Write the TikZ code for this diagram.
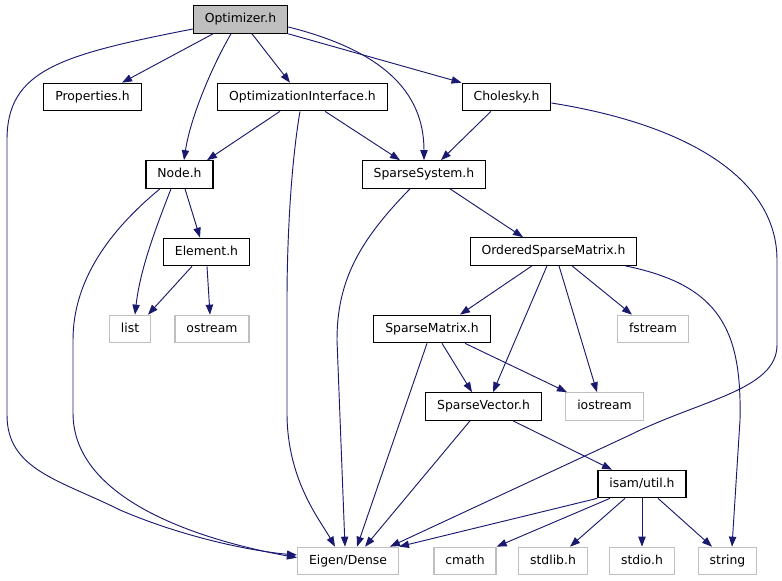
\documentclass[tikz,border=0pt]{standalone}
\usepackage{fontspec}
\setmainfont{DejaVu Sans}
\usetikzlibrary{arrows.meta}
\definecolor{dox-blue}{RGB}{25,25,112}
\definecolor{dox-gray}{RGB}{191,191,191}

\begin{document}
\begin{tikzpicture}[x=0.75pt, y=-0.75pt,
		every node/.style={font=\fontsize{9.3}{11}\selectfont, inner xsep=8.6pt, inner ysep=0pt,
			minimum height=20.6pt, text height=6.9pt, text depth=2.1pt},
		hdr/.style={draw=black, line width=0.9pt, fill=white},
		sys/.style={draw=dox-gray, line width=0.9pt, fill=white},
		inc/.style={dox-blue, line width=0.7pt, -{Triangle[length=7.5pt,width=5.5pt]}}]
			\useasboundingbox (0,0) rectangle (782,581);
			\node[hdr, fill=dox-gray] (opt) at (240.5,19.5) {Optimizer.h};
			\node[hdr] (prop) at (92.5,97) {Properties.h};
			\node[hdr] (oi) at (302.5,97) {OptimizationInterface.h};
			\node[hdr] (chol) at (506.5,97) {Cholesky.h};
			\node[hdr] (node) at (179.5,174.5) {Node.h};
			\node[hdr] (ss) at (424,174.5) {SparseSystem.h};
			\node[hdr] (elem) at (206.5,252) {Element.h};
			\node[hdr] (osm) at (553.5,251.5) {OrderedSparseMatrix.h};
			\node[sys] (list) at (130,329) {list};
			\node[sys] (ostream) at (212,329) {ostream};
			\node[hdr] (sm) at (432,329) {SparseMatrix.h};
			\node[sys] (fstream) at (653,329) {fstream};
			\node[hdr] (sv) at (483.5,406.5) {SparseVector.h};
			\node[sys] (iostream) at (604.5,406.5) {iostream};
			\node[hdr] (util) at (642,484) {isam/util.h};
			\node[sys] (eigen) at (348,561) {Eigen/Dense};
			\node[sys] (cmath) at (465,561) {cmath};
			\node[sys] (stdlib) at (553,561) {stdlib.h};
			\node[sys] (stdio) at (642,561) {stdio.h};
			\node[sys] (string) at (727.5,561) {string};
			\draw
			(213,0 |- opt.south) edge[inc] (122,0 |- prop.north)
			(252,0 |- opt.south) edge[inc] (290,0 |- oi.north)
			(opt.south east) edge[inc] (chol.north west)
			(280,0 |- oi.south) edge[inc] (207,0 |- node.north)
			(325,0 |- oi.south) edge[inc] (400,0 |- ss.north)
			(491,0 |- chol.south) edge[inc] (441,0 |- ss.north)
			(185,0 |- node.south) edge[inc] (200,0 |- elem.north)
			(192,0 |- elem.south) edge[inc] (148,0 |- list.north)
			(207,0 |- elem.south) edge[inc] (210,0 |- ostream.north)
			(450,0 |- ss.south) edge[inc] (523,0 |- osm.north)
			(532,0 |- osm.south) edge[inc] (460,0 |- sm.north)
			(547,0 |- osm.south) edge[inc] (493,0 |- sv.north)
			(559,0 |- osm.south) edge[inc] (597,0 |- iostream.north)
			(572,0 |- osm.south) edge[inc] (632,0 |- fstream.north)
			(442,0 |- sm.south) edge[inc] (472,0 |- sv.north)
			(465,0 |- sm.south) edge[inc] (567,0 |- iostream.north)
			(427,0 |- sm.south) edge[inc] (357,0 |- eigen.north)
			(513,0 |- sv.south) edge[inc] (612,0 |- util.north)
			(470,0 |- sv.south) edge[inc] (365,0 |- eigen.north)
			(util.south west) edge[inc] (eigen.north east)
			(610,0 |- util.south) edge[inc] (cmath.north east)
			(625,0 |- util.south) edge[inc] (570,0 |- stdlib.north)
			(642,0 |- util.south) edge[inc] (stdio.north)
			(658,0 |- util.south) edge[inc] (712,0 |- string.north);
			% curved includes
			\draw[inc] (231,0 |- opt.south) .. controls (210,70) and (190,120) .. (184,0 |- node.north);
			\draw[inc] ([yshift=-5.6pt]opt.east) .. controls (380,50) and (424,90) .. (424,0 |- ss.north);
			\draw[inc] (opt.west |- 0,29) .. controls (60,55) and (7,70) .. (7,140) -- (7,415)
				.. controls (7,470) and (60,480) .. (120,510) .. controls (190,540) and (260,552) .. ([yshift=4.5pt]eigen.west);
			\draw[inc] (300,0 |- oi.south) .. controls (290,170) and (287,250) .. (287,300) -- (287,413)
				.. controls (287,480) and (320,520) .. (335,0 |- eigen.north);
			\draw[inc] (chol.east |- 0,103) .. controls (690,125) and (777,180) .. (777,260) -- (777,345)
				.. controls (777,390) and (700,400) .. (630,435) -- (390,0 |- eigen.north);
			\draw[inc] (171,0 |- node.south) .. controls (155,230) and (140,270) .. (135,0 |- list.north);
			\draw[inc] (160,0 |- node.south) .. controls (110,230) and (73,280) .. (73,340) -- (73,413)
				.. controls (73,500) and (200,540) .. ([yshift=2.5pt]eigen.west);
			\draw[inc] (410,0 |- ss.south) .. controls (360,240) and (337,280) .. (337,340) -- (345,0 |- eigen.north);
			\draw[inc] (625,0 |- osm.south) .. controls (720,285) and (742,330) .. (740,420) -- (732,0 |- string.north);
		\end{tikzpicture}
\end{document}
